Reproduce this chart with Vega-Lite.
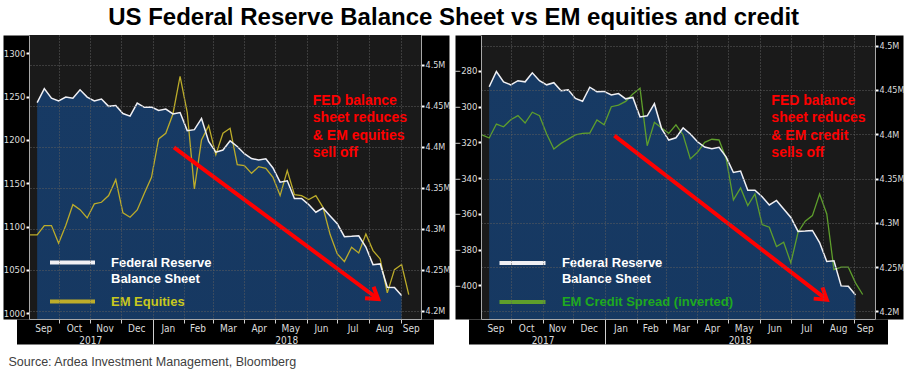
{
  "$schema": "https://vega.github.io/schema/vega-lite/v6.json",
  "background": "white",
  "padding": {"left": 3, "top": 6, "right": 2, "bottom": 5},
  "title": {"text": "US Federal Reserve Balance Sheet vs EM equities and credit", "font": "Liberation Sans", "fontSize": 24, "fontWeight": "bold", "color": "#000000", "anchor": "middle", "offset": 5},
  "spacing": 60,
  "bounds": "flush",
  "resolve": {"scale": {"color": "independent"}, "legend": {"color": "independent"}},
  "datasets": {
    "fed": [
      {"date": "2017-09-10", "fed": 4.4537}, {"date": "2017-09-17", "fed": 4.4709}, {"date": "2017-09-24", "fed": 4.4592},
      {"date": "2017-10-01", "fed": 4.4558}, {"date": "2017-10-08", "fed": 4.4605}, {"date": "2017-10-15", "fed": 4.4592},
      {"date": "2017-10-22", "fed": 4.4694}, {"date": "2017-10-29", "fed": 4.4605}, {"date": "2017-11-05", "fed": 4.4558},
      {"date": "2017-11-12", "fed": 4.4582}, {"date": "2017-11-19", "fed": 4.4492}, {"date": "2017-11-26", "fed": 4.4501},
      {"date": "2017-12-03", "fed": 4.4404}, {"date": "2017-12-10", "fed": 4.4373}, {"date": "2017-12-17", "fed": 4.4531},
      {"date": "2017-12-24", "fed": 4.4480}, {"date": "2017-12-31", "fed": 4.4484}, {"date": "2018-01-07", "fed": 4.4443},
      {"date": "2018-01-14", "fed": 4.4459}, {"date": "2018-01-21", "fed": 4.4400}, {"date": "2018-01-28", "fed": 4.4416},
      {"date": "2018-02-04", "fed": 4.4196}, {"date": "2018-02-11", "fed": 4.4208}, {"date": "2018-02-18", "fed": 4.4345},
      {"date": "2018-02-25", "fed": 4.4064}, {"date": "2018-03-04", "fed": 4.3934}, {"date": "2018-03-11", "fed": 4.3960},
      {"date": "2018-03-18", "fed": 4.4072}, {"date": "2018-03-25", "fed": 4.4003}, {"date": "2018-04-01", "fed": 4.3915},
      {"date": "2018-04-08", "fed": 4.3856}, {"date": "2018-04-15", "fed": 4.3837}, {"date": "2018-04-22", "fed": 4.3852},
      {"date": "2018-04-29", "fed": 4.3741}, {"date": "2018-05-06", "fed": 4.3568}, {"date": "2018-05-13", "fed": 4.3584},
      {"date": "2018-05-20", "fed": 4.3368}, {"date": "2018-05-27", "fed": 4.3368}, {"date": "2018-06-03", "fed": 4.3294},
      {"date": "2018-06-10", "fed": 4.3201}, {"date": "2018-06-17", "fed": 4.3252}, {"date": "2018-06-24", "fed": 4.3156},
      {"date": "2018-07-01", "fed": 4.3060}, {"date": "2018-07-08", "fed": 4.2903}, {"date": "2018-07-15", "fed": 4.2907},
      {"date": "2018-07-22", "fed": 4.2913}, {"date": "2018-07-29", "fed": 4.2776}, {"date": "2018-08-05", "fed": 4.2562},
      {"date": "2018-08-12", "fed": 4.2571}, {"date": "2018-08-19", "fed": 4.2287}, {"date": "2018-08-26", "fed": 4.2283},
      {"date": "2018-09-02", "fed": 4.2185}
    ],
    "em": [
      {"date": "2017-09-03", "em": 1090.4}, {"date": "2017-09-10", "em": 1090.4}, {"date": "2017-09-17", "em": 1101.2},
      {"date": "2017-09-24", "em": 1101.2}, {"date": "2017-10-01", "em": 1080.8}, {"date": "2017-10-08", "em": 1101.2},
      {"date": "2017-10-15", "em": 1125.4}, {"date": "2017-10-22", "em": 1119.6}, {"date": "2017-10-29", "em": 1110.0},
      {"date": "2017-11-05", "em": 1126.2}, {"date": "2017-11-12", "em": 1128.1}, {"date": "2017-11-19", "em": 1135.8},
      {"date": "2017-11-26", "em": 1154.2}, {"date": "2017-12-03", "em": 1115.8}, {"date": "2017-12-10", "em": 1110.8},
      {"date": "2017-12-17", "em": 1119.2}, {"date": "2017-12-24", "em": 1138.5}, {"date": "2017-12-31", "em": 1156.9},
      {"date": "2018-01-07", "em": 1201.2}, {"date": "2018-01-14", "em": 1207.7}, {"date": "2018-01-21", "em": 1230.0},
      {"date": "2018-01-28", "em": 1273.5}, {"date": "2018-02-04", "em": 1231.9}, {"date": "2018-02-11", "em": 1143.5},
      {"date": "2018-02-18", "em": 1200.0}, {"date": "2018-02-25", "em": 1216.5}, {"date": "2018-03-04", "em": 1183.1},
      {"date": "2018-03-11", "em": 1207.7}, {"date": "2018-03-18", "em": 1213.5}, {"date": "2018-03-25", "em": 1171.5},
      {"date": "2018-04-01", "em": 1170.4}, {"date": "2018-04-08", "em": 1161.5}, {"date": "2018-04-15", "em": 1169.2},
      {"date": "2018-04-22", "em": 1167.3}, {"date": "2018-04-29", "em": 1156.9}, {"date": "2018-05-06", "em": 1135.8},
      {"date": "2018-05-13", "em": 1164.6}, {"date": "2018-05-20", "em": 1136.9}, {"date": "2018-05-27", "em": 1135.8},
      {"date": "2018-06-03", "em": 1131.2}, {"date": "2018-06-10", "em": 1135.8}, {"date": "2018-06-17", "em": 1122.3},
      {"date": "2018-06-24", "em": 1090.8}, {"date": "2018-07-01", "em": 1068.5}, {"date": "2018-07-08", "em": 1059.6},
      {"date": "2018-07-15", "em": 1076.2}, {"date": "2018-07-22", "em": 1069.6}, {"date": "2018-07-29", "em": 1091.5},
      {"date": "2018-08-05", "em": 1072.3}, {"date": "2018-08-12", "em": 1062.7}, {"date": "2018-08-19", "em": 1023.5},
      {"date": "2018-08-26", "em": 1050.4}, {"date": "2018-09-02", "em": 1056.2}, {"date": "2018-09-09", "em": 1021.5}
    ],
    "credit": [
      {"date": "2017-09-03", "spread": -315.9}, {"date": "2017-09-10", "spread": -317.6}, {"date": "2017-09-17", "spread": -309.8},
      {"date": "2017-09-24", "spread": -311.3}, {"date": "2017-10-01", "spread": -307.4}, {"date": "2017-10-08", "spread": -305.1},
      {"date": "2017-10-15", "spread": -309.2}, {"date": "2017-10-22", "spread": -303.2}, {"date": "2017-10-29", "spread": -305.1},
      {"date": "2017-11-05", "spread": -315.4}, {"date": "2017-11-12", "spread": -323.7}, {"date": "2017-11-19", "spread": -320.6},
      {"date": "2017-11-26", "spread": -318.2}, {"date": "2017-12-03", "spread": -315.9}, {"date": "2017-12-10", "spread": -315.0},
      {"date": "2017-12-17", "spread": -314.8}, {"date": "2017-12-24", "spread": -307.5}, {"date": "2017-12-31", "spread": -310.2},
      {"date": "2018-01-07", "spread": -300.1}, {"date": "2018-01-14", "spread": -299.2}, {"date": "2018-01-21", "spread": -297.1},
      {"date": "2018-01-28", "spread": -293.0}, {"date": "2018-02-04", "spread": -289.8}, {"date": "2018-02-11", "spread": -321.9},
      {"date": "2018-02-18", "spread": -308.8}, {"date": "2018-02-25", "spread": -312.0}, {"date": "2018-03-04", "spread": -315.0},
      {"date": "2018-03-11", "spread": -310.2}, {"date": "2018-03-18", "spread": -315.9}, {"date": "2018-03-25", "spread": -329.3},
      {"date": "2018-04-01", "spread": -325.6}, {"date": "2018-04-08", "spread": -320.0}, {"date": "2018-04-15", "spread": -318.3},
      {"date": "2018-04-22", "spread": -318.7}, {"date": "2018-04-29", "spread": -329.3}, {"date": "2018-05-06", "spread": -352.2},
      {"date": "2018-05-13", "spread": -345.5}, {"date": "2018-05-20", "spread": -355.4}, {"date": "2018-05-27", "spread": -348.9},
      {"date": "2018-06-03", "spread": -366.0}, {"date": "2018-06-10", "spread": -367.5}, {"date": "2018-06-17", "spread": -378.3},
      {"date": "2018-06-24", "spread": -375.9}, {"date": "2018-07-01", "spread": -387.4}, {"date": "2018-07-08", "spread": -370.3},
      {"date": "2018-07-15", "spread": -364.1}, {"date": "2018-07-22", "spread": -361.0}, {"date": "2018-07-29", "spread": -348.9},
      {"date": "2018-08-05", "spread": -360.1}, {"date": "2018-08-12", "spread": -391.2}, {"date": "2018-08-19", "spread": -389.8},
      {"date": "2018-08-26", "spread": -389.8}, {"date": "2018-09-02", "spread": -398.6}, {"date": "2018-09-09", "spread": -405.1}
    ]
  },
  "hconcat": [
    {
      "width": 392,
      "height": 284,
      "layer": [
        {
          "data": {"name": "fed"},
          "mark": {"type": "area", "clip": true, "fill": {"gradient": "linear", "x1": 0, "y1": 0, "x2": 0, "y2": 1, "stops": [{"offset": 0, "color": "#173a64"}, {"offset": 1, "color": "#0a1e3a"}]}},
          "encoding": {
            "x": {"field": "date", "type": "temporal", "scale": {"type": "utc", "domain": [{"year": 2017, "month": 9, "date": 2, "utc": true}, {"year": 2018, "month": 9, "date": 21, "utc": true}]},
              "axis": {"orient": "bottom", "offset": 12.5, "domain": true, "domainColor": "#000000", "domainWidth": 25, "domainCap": "square", "labels": false, "ticks": false, "grid": false, "title": null, "zindex": 1}},
            "y": {"field": "fed", "type": "quantitative", "scale": {"domain": [4.1899, 4.5362], "zero": false, "nice": false},
              "axis": {"orient": "left", "offset": 13, "domain": true, "domainColor": "#000000", "domainWidth": 26, "labels": false, "ticks": false, "grid": false, "title": null, "zindex": 1}}
          }
        },
        {
          "data": {"values": [{"date": "2018-06-07", "fed": 4.4646, "note": "FED balance|sheet reduces|& EM equities|sell off"}]},
          "mark": {"type": "text", "align": "left", "baseline": "top", "lineBreak": "|", "font": "Liberation Sans", "fontWeight": "bold", "fontSize": 14, "lineHeight": 17.5, "color": "#ff0000"},
          "encoding": {
            "x": {"field": "date", "type": "temporal", "scale": {"type": "utc", "domain": [{"year": 2017, "month": 9, "date": 2, "utc": true}, {"year": 2018, "month": 9, "date": 21, "utc": true}]},
              "axis": {"orient": "bottom", "title": null, "labels": false, "ticks": true, "tickColor": "#d0d0d0", "tickWidth": 1,
                "tickSize": {"condition": {"test": "utcmonth(datum.value) === 0", "value": 25}, "value": 4},
                "grid": true, "gridColor": "#5e5e5e", "gridDash": [1, 2], "gridWidth": 1, "domain": true, "domainColor": "#a8a8a8", "domainWidth": 1, "zindex": 1,
                "values": [{"year": 2017, "month": 10, "date": 1, "utc": true}, {"year": 2017, "month": 11, "date": 1, "utc": true}, {"year": 2017, "month": 12, "date": 1, "utc": true}, {"year": 2018, "month": 1, "date": 1, "utc": true}, {"year": 2018, "month": 2, "date": 1, "utc": true}, {"year": 2018, "month": 3, "date": 1, "utc": true}, {"year": 2018, "month": 4, "date": 1, "utc": true}, {"year": 2018, "month": 5, "date": 1, "utc": true}, {"year": 2018, "month": 6, "date": 1, "utc": true}, {"year": 2018, "month": 7, "date": 1, "utc": true}, {"year": 2018, "month": 8, "date": 1, "utc": true}, {"year": 2018, "month": 9, "date": 1, "utc": true}]}},
            "y": {"field": "fed", "type": "quantitative", "scale": {"domain": [4.1899, 4.5362], "zero": false, "nice": false},
              "axis": {"orient": "right", "offset": 14, "domain": true, "domainColor": "#000000", "domainWidth": 28, "labels": false, "ticks": false, "grid": false, "title": null, "zindex": 1}},
            "text": {"field": "note"}
          }
        },
        {
          "data": {"name": "em"},
          "mark": {"type": "line", "strokeWidth": 1.3},
          "encoding": {
            "x": {"field": "date", "type": "temporal", "scale": {"type": "utc", "domain": [{"year": 2017, "month": 9, "date": 2, "utc": true}, {"year": 2018, "month": 9, "date": 21, "utc": true}]},
              "axis": {"orient": "bottom", "title": null, "ticks": false, "tickSize": 0, "domain": false, "grid": false, "labelPadding": 4, "labelOverlap": false, "labelFlush": false, "zindex": 1,
                "labelExpr": "utcFormat(datum.value, '%b')",
                "values": [{"year": 2017, "month": 9, "date": 16, "utc": true}, {"year": 2017, "month": 10, "date": 16, "utc": true}, {"year": 2017, "month": 11, "date": 15, "utc": true}, {"year": 2017, "month": 12, "date": 16, "utc": true}, {"year": 2018, "month": 1, "date": 16, "utc": true}, {"year": 2018, "month": 2, "date": 14, "utc": true}, {"year": 2018, "month": 3, "date": 16, "utc": true}, {"year": 2018, "month": 4, "date": 15, "utc": true}, {"year": 2018, "month": 5, "date": 16, "utc": true}, {"year": 2018, "month": 6, "date": 15, "utc": true}, {"year": 2018, "month": 7, "date": 16, "utc": true}, {"year": 2018, "month": 8, "date": 16, "utc": true}, {"year": 2018, "month": 9, "date": 11, "utc": true}]}},
            "y": {"field": "em", "type": "quantitative", "scale": {"domain": [993.4, 1321.1], "zero": false, "nice": false},
              "axis": {"orient": "left", "title": null, "format": "d", "values": [1000, 1050, 1100, 1150, 1200, 1250, 1300], "grid": false, "ticks": true, "tickSize": 3, "tickWidth": 2, "tickColor": "#ffffff", "domain": true, "domainColor": "#a8a8a8", "labelPadding": 1, "labelFontSize": 9.5, "zindex": 1}},
            "color": {"datum": "EM Equities", "type": "nominal",
              "scale": {"domain": ["Federal Reserve|Balance Sheet", "EM Equities"], "range": ["#f0f0f4", "#bcac2a"]},
              "legend": {"orient": "none", "legendX": 34, "legendY": 218, "title": null, "padding": 0, "symbolType": "M-3,0L3,0", "symbolSize": 225, "symbolStrokeWidth": 4,
                "labelFont": "Liberation Sans", "labelFontWeight": "bold", "labelFontSize": 13, "labelOffset": 29, "labelLimit": 400, "rowPadding": 6,
                "labelExpr": "split(datum.label, '|')",
                "encode": {
                  "labels": {"update": {"fill": {"signal": "datum.value === 'EM Equities' ? '#c8c81e' : '#ffffff'"}, "lineHeight": {"value": 16}}},
                  "symbols": {"update": {"stroke": {"signal": "datum.value === 'EM Equities' ? '#d2d200' : '#ffffff'"}}}
                }}}
          }
        },
        {
          "data": {"name": "fed"},
          "mark": {"type": "line", "strokeWidth": 1.5},
          "encoding": {
            "x": {"field": "date", "type": "temporal", "scale": {"type": "utc", "domain": [{"year": 2017, "month": 9, "date": 2, "utc": true}, {"year": 2018, "month": 9, "date": 21, "utc": true}]},
              "axis": {"orient": "bottom", "ticks": false, "tickSize": 0, "domain": false, "grid": false, "labelPadding": 16, "labelOverlap": false, "labelFlush": false, "zindex": 1,
                "labelExpr": "utcFormat(datum.value, '%Y')",
                "values": [{"year": 2017, "month": 11, "date": 1, "utc": true}, {"year": 2018, "month": 5, "date": 12, "utc": true}],
                "title": "Source: Ardea Investment Management, Bloomberg", "titleX": -21, "titleY": 42, "titleAlign": "left", "titleAnchor": "start", "titleBaseline": "middle",
                "titleFont": "Liberation Sans", "titleFontSize": 12.5, "titleFontWeight": "normal", "titleColor": "#404040"}},
            "y": {"field": "fed", "type": "quantitative", "scale": {"domain": [4.1899, 4.5362], "zero": false, "nice": false},
              "axis": {"orient": "right", "title": null, "values": [4.2, 4.25, 4.3, 4.35, 4.4, 4.45, 4.5], "labelExpr": "format(datum.value, '.2~f') + 'M'", "labelFontSize": 9,
                "grid": true, "gridColor": "#5e5e5e", "gridDash": [1, 2], "ticks": true, "tickSize": 3, "tickWidth": 2, "tickColor": "#ffffff", "domain": true, "domainColor": "#a8a8a8", "labelPadding": 1, "zindex": 1}},
            "color": {"datum": "Federal Reserve|Balance Sheet", "type": "nominal"}
          }
        },
        {
          "data": {"values": [{"start": "2018-01-22", "end": "2018-08-10", "from": 4.3993, "to": 4.2143}]},
          "mark": {"type": "rule", "color": "#ff0000", "strokeWidth": 4},
          "encoding": {
            "x": {"field": "start", "type": "temporal", "scale": {"type": "utc", "domain": [{"year": 2017, "month": 9, "date": 2, "utc": true}, {"year": 2018, "month": 9, "date": 21, "utc": true}]}, "axis": null},
            "x2": {"field": "end"},
            "y": {"field": "from", "type": "quantitative", "scale": {"domain": [4.1899, 4.5362], "zero": false, "nice": false}, "axis": null},
            "y2": {"field": "to"}
          }
        },
        {
          "data": {"values": [{"end": "2018-08-10", "to": 4.2143}]},
          "mark": {"type": "point", "shape": "M-1,-0.65L0,0L-1,0.65", "angle": 36.7, "filled": false, "size": 484, "strokeWidth": 4, "color": "#ff0000", "opacity": 1},
          "encoding": {
            "x": {"field": "end", "type": "temporal", "scale": {"type": "utc", "domain": [{"year": 2017, "month": 9, "date": 2, "utc": true}, {"year": 2018, "month": 9, "date": 21, "utc": true}]}, "axis": null},
            "y": {"field": "to", "type": "quantitative", "scale": {"domain": [4.1899, 4.5362], "zero": false, "nice": false}, "axis": null}
          }
        }
      ],
      "resolve": {"scale": {"y": "independent"}, "axis": {"x": "independent", "y": "independent"}}
    },
    {
      "width": 394,
      "height": 284,
      "layer": [
        {
          "data": {"name": "fed"},
          "mark": {"type": "area", "clip": true, "fill": {"gradient": "linear", "x1": 0, "y1": 0, "x2": 0, "y2": 1, "stops": [{"offset": 0, "color": "#173a64"}, {"offset": 1, "color": "#0a1e3a"}]}},
          "encoding": {
            "x": {"field": "date", "type": "temporal", "scale": {"type": "utc", "domain": [{"year": 2017, "month": 9, "date": 2, "utc": true}, {"year": 2018, "month": 9, "date": 21, "utc": true}]},
              "axis": {"orient": "bottom", "offset": 12.5, "domain": true, "domainColor": "#000000", "domainWidth": 25, "domainCap": "square", "labels": false, "ticks": false, "grid": false, "title": null, "zindex": 1}},
            "y": {"field": "fed", "type": "quantitative", "scale": {"domain": [4.1913, 4.5121], "zero": false, "nice": false},
              "axis": {"orient": "left", "offset": 13, "domain": true, "domainColor": "#000000", "domainWidth": 26, "labels": false, "ticks": false, "grid": false, "title": null, "zindex": 1}}
          }
        },
        {
          "data": {"values": [{"date": "2018-06-12", "fed": 4.4455, "note": "FED balance|sheet reduces|& EM credit|sells off"}]},
          "mark": {"type": "text", "align": "left", "baseline": "top", "lineBreak": "|", "font": "Liberation Sans", "fontWeight": "bold", "fontSize": 14, "lineHeight": 17.5, "color": "#ff0000"},
          "encoding": {
            "x": {"field": "date", "type": "temporal", "scale": {"type": "utc", "domain": [{"year": 2017, "month": 9, "date": 2, "utc": true}, {"year": 2018, "month": 9, "date": 21, "utc": true}]},
              "axis": {"orient": "bottom", "title": null, "labels": false, "ticks": true, "tickColor": "#d0d0d0", "tickWidth": 1,
                "tickSize": {"condition": {"test": "utcmonth(datum.value) === 0", "value": 25}, "value": 4},
                "grid": true, "gridColor": "#5e5e5e", "gridDash": [1, 2], "gridWidth": 1, "domain": true, "domainColor": "#a8a8a8", "domainWidth": 1, "zindex": 1,
                "values": [{"year": 2017, "month": 10, "date": 1, "utc": true}, {"year": 2017, "month": 11, "date": 1, "utc": true}, {"year": 2017, "month": 12, "date": 1, "utc": true}, {"year": 2018, "month": 1, "date": 1, "utc": true}, {"year": 2018, "month": 2, "date": 1, "utc": true}, {"year": 2018, "month": 3, "date": 1, "utc": true}, {"year": 2018, "month": 4, "date": 1, "utc": true}, {"year": 2018, "month": 5, "date": 1, "utc": true}, {"year": 2018, "month": 6, "date": 1, "utc": true}, {"year": 2018, "month": 7, "date": 1, "utc": true}, {"year": 2018, "month": 8, "date": 1, "utc": true}, {"year": 2018, "month": 9, "date": 1, "utc": true}]}},
            "y": {"field": "fed", "type": "quantitative", "scale": {"domain": [4.1913, 4.5121], "zero": false, "nice": false},
              "axis": {"orient": "right", "offset": 14, "domain": true, "domainColor": "#000000", "domainWidth": 28, "labels": false, "ticks": false, "grid": false, "title": null, "zindex": 1}},
            "text": {"field": "note"}
          }
        },
        {
          "data": {"name": "credit"},
          "mark": {"type": "line", "strokeWidth": 1.3},
          "encoding": {
            "x": {"field": "date", "type": "temporal", "scale": {"type": "utc", "domain": [{"year": 2017, "month": 9, "date": 2, "utc": true}, {"year": 2018, "month": 9, "date": 21, "utc": true}]},
              "axis": {"orient": "bottom", "title": null, "ticks": false, "tickSize": 0, "domain": false, "grid": false, "labelPadding": 4, "labelOverlap": false, "labelFlush": false, "zindex": 1,
                "labelExpr": "utcFormat(datum.value, '%b')",
                "values": [{"year": 2017, "month": 9, "date": 16, "utc": true}, {"year": 2017, "month": 10, "date": 16, "utc": true}, {"year": 2017, "month": 11, "date": 15, "utc": true}, {"year": 2017, "month": 12, "date": 16, "utc": true}, {"year": 2018, "month": 1, "date": 16, "utc": true}, {"year": 2018, "month": 2, "date": 14, "utc": true}, {"year": 2018, "month": 3, "date": 16, "utc": true}, {"year": 2018, "month": 4, "date": 15, "utc": true}, {"year": 2018, "month": 5, "date": 16, "utc": true}, {"year": 2018, "month": 6, "date": 15, "utc": true}, {"year": 2018, "month": 7, "date": 16, "utc": true}, {"year": 2018, "month": 8, "date": 16, "utc": true}, {"year": 2018, "month": 9, "date": 11, "utc": true}]}},
            "y": {"field": "spread", "type": "quantitative", "scale": {"domain": [-418.8, -260.0], "zero": false, "nice": false},
              "axis": {"orient": "left", "title": null, "format": "d", "values": [-400, -380, -360, -340, -320, -300, -280], "grid": false, "ticks": true, "tickSize": 3, "tickWidth": 2, "tickColor": "#ffffff", "domain": true, "domainColor": "#a8a8a8", "labelPadding": 1, "labelFontSize": 9.5, "zindex": 1}},
            "color": {"datum": "EM Credit Spread (inverted)", "type": "nominal",
              "scale": {"domain": ["Federal Reserve|Balance Sheet", "EM Credit Spread (inverted)"], "range": ["#f0f0f4", "#5e9e2c"]},
              "legend": {"orient": "none", "legendX": 31.5, "legendY": 218, "title": null, "padding": 0, "symbolType": "M-3,0L3,0", "symbolSize": 235, "symbolStrokeWidth": 4,
                "labelFont": "Liberation Sans", "labelFontWeight": "bold", "labelFontSize": 13, "labelOffset": 29.4, "labelLimit": 400, "rowPadding": 6,
                "labelExpr": "split(datum.label, '|')",
                "encode": {
                  "labels": {"update": {"fill": {"signal": "datum.value === 'EM Credit Spread (inverted)' ? '#1eaa1e' : '#ffffff'"}, "lineHeight": {"value": 16}}},
                  "symbols": {"update": {"stroke": {"signal": "datum.value === 'EM Credit Spread (inverted)' ? '#00c800' : '#ffffff'"}}}
                }}}
          }
        },
        {
          "data": {"name": "fed"},
          "mark": {"type": "line", "strokeWidth": 1.5},
          "encoding": {
            "x": {"field": "date", "type": "temporal", "scale": {"type": "utc", "domain": [{"year": 2017, "month": 9, "date": 2, "utc": true}, {"year": 2018, "month": 9, "date": 21, "utc": true}]},
              "axis": {"orient": "bottom", "title": null, "ticks": false, "tickSize": 0, "domain": false, "grid": false, "labelPadding": 16, "labelOverlap": false, "labelFlush": false, "zindex": 1,
                "labelExpr": "utcFormat(datum.value, '%Y')",
                "values": [{"year": 2017, "month": 11, "date": 1, "utc": true}, {"year": 2018, "month": 5, "date": 12, "utc": true}]}},
            "y": {"field": "fed", "type": "quantitative", "scale": {"domain": [4.1913, 4.5121], "zero": false, "nice": false},
              "axis": {"orient": "right", "title": null, "values": [4.2, 4.25, 4.3, 4.35, 4.4, 4.45, 4.5], "labelExpr": "format(datum.value, '.2~f') + 'M'", "labelFontSize": 9,
                "grid": true, "gridColor": "#5e5e5e", "gridDash": [1, 2], "ticks": true, "tickSize": 3, "tickWidth": 2, "tickColor": "#ffffff", "domain": true, "domainColor": "#a8a8a8", "labelPadding": 1, "zindex": 1}},
            "color": {"datum": "Federal Reserve|Balance Sheet", "type": "nominal"}
          }
        },
        {
          "data": {"values": [{"start": "2018-01-10", "end": "2018-08-05", "from": 4.3984, "to": 4.2131}]},
          "mark": {"type": "rule", "color": "#ff0000", "strokeWidth": 4},
          "encoding": {
            "x": {"field": "start", "type": "temporal", "scale": {"type": "utc", "domain": [{"year": 2017, "month": 9, "date": 2, "utc": true}, {"year": 2018, "month": 9, "date": 21, "utc": true}]}, "axis": null},
            "x2": {"field": "end"},
            "y": {"field": "from", "type": "quantitative", "scale": {"domain": [4.1913, 4.5121], "zero": false, "nice": false}, "axis": null},
            "y2": {"field": "to"}
          }
        },
        {
          "data": {"values": [{"end": "2018-08-05", "to": 4.2131}]},
          "mark": {"type": "point", "shape": "M-1,-0.65L0,0L-1,0.65", "angle": 37.7, "filled": false, "size": 484, "strokeWidth": 4, "color": "#ff0000", "opacity": 1},
          "encoding": {
            "x": {"field": "end", "type": "temporal", "scale": {"type": "utc", "domain": [{"year": 2017, "month": 9, "date": 2, "utc": true}, {"year": 2018, "month": 9, "date": 21, "utc": true}]}, "axis": null},
            "y": {"field": "to", "type": "quantitative", "scale": {"domain": [4.1913, 4.5121], "zero": false, "nice": false}, "axis": null}
          }
        }
      ],
      "resolve": {"scale": {"y": "independent"}, "axis": {"x": "independent", "y": "independent"}}
    }
  ],
  "config": {
    "view": {"fill": "#1a1a1a", "stroke": null},
    "axis": {"labelFont": "Liberation Sans Narrow, DejaVu Sans Condensed, Liberation Sans", "labelFontSize": 10, "labelColor": "#dcdcdc"}
  }
}
